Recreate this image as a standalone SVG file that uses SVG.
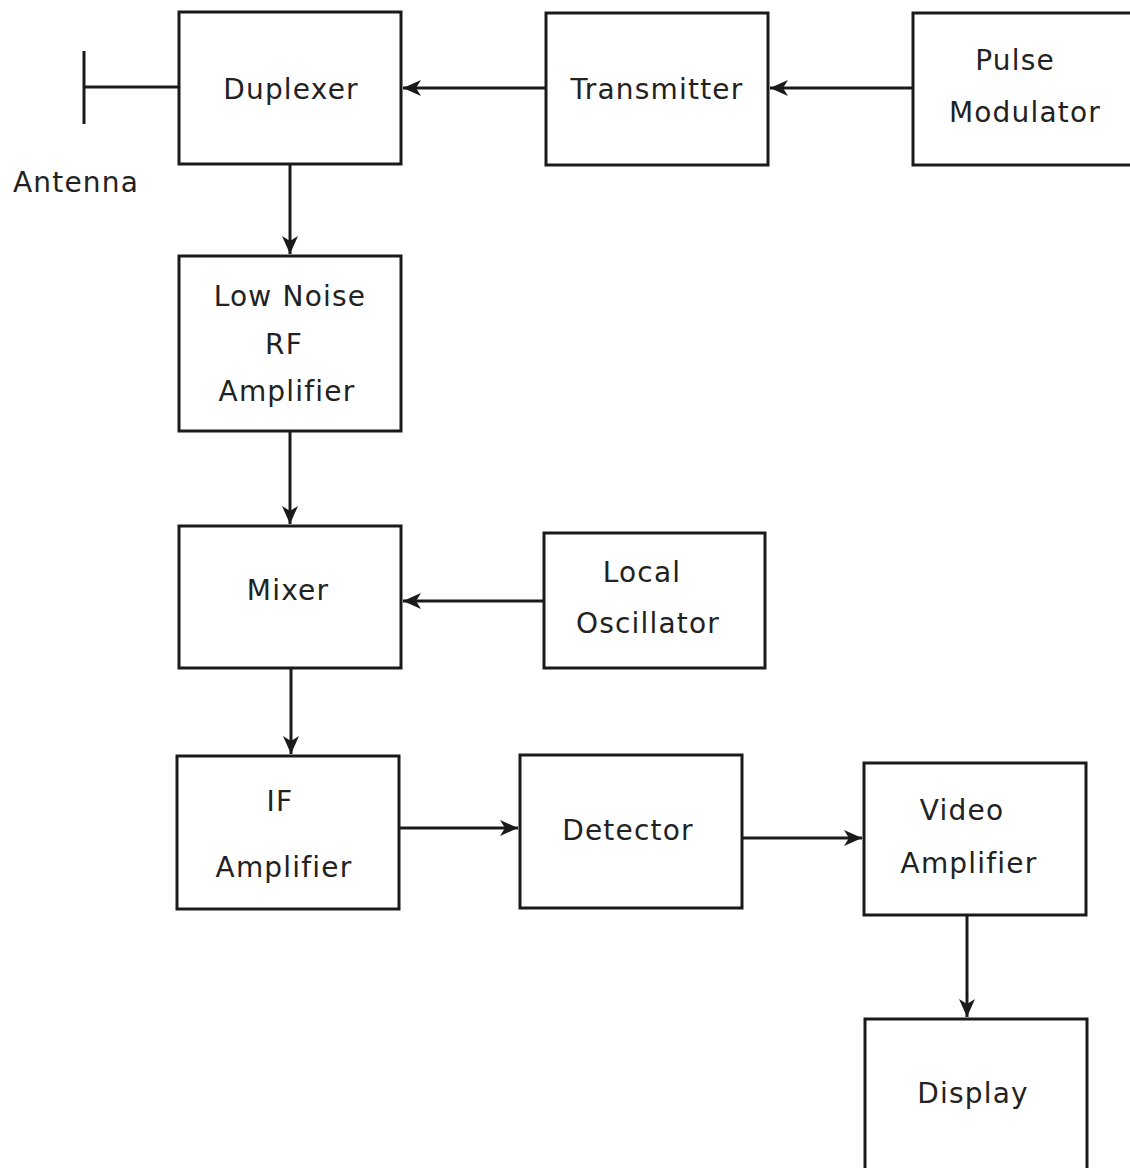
<svg xmlns="http://www.w3.org/2000/svg" width="1130" height="1168" viewBox="0 0 1130 1168">
<style>
.box{fill:#fff;stroke:#1a1a1a;stroke-width:3}
.t{font-family:"DejaVu Sans",Verdana,sans-serif;font-size:28px;letter-spacing:1.2px;fill:#222;text-anchor:middle}
.c{stroke:#1a1a1a;stroke-width:3;fill:none}
</style>
<defs>
<marker id="ah" markerUnits="userSpaceOnUse" markerWidth="22" markerHeight="22" viewBox="0 0 22 22" refX="19" refY="11" orient="auto">
<path d="M1,3 L19,11 L1,19 L6,11 Z" fill="#1a1a1a"/>
</marker>
</defs>
<rect width="1130" height="1168" fill="#fff"/>
<g id="connectors">
<path class="c" d="M84,51 V124 M84,87 H180"/>
<path class="c" d="M546,88 H403" marker-end="url(#ah)"/>
<path class="c" d="M913,88 H770" marker-end="url(#ah)"/>
<path class="c" d="M290,164 V254" marker-end="url(#ah)"/>
<path class="c" d="M290,431 V524" marker-end="url(#ah)"/>
<path class="c" d="M544,601 H403" marker-end="url(#ah)"/>
<path class="c" d="M291,668 V754" marker-end="url(#ah)"/>
<path class="c" d="M399,828 H518" marker-end="url(#ah)"/>
<path class="c" d="M742,838 H862" marker-end="url(#ah)"/>
<path class="c" d="M967,915 V1017" marker-end="url(#ah)"/>
</g>
<g id="antenna"><text class="t" x="76" y="192">Antenna</text></g>
<g id="duplexer"><rect class="box" x="179" y="12" width="222" height="152"/><text class="t" x="291" y="99">Duplexer</text></g>
<g id="transmitter"><rect class="box" x="546" y="13" width="222" height="152"/><text class="t" x="657" y="99">Transmitter</text></g>
<g id="pulse-modulator"><rect class="box" x="913" y="13" width="240" height="152"/><text class="t" x="1015" y="70">Pulse</text><text class="t" x="1025" y="122">Modulator</text></g>
<g id="lna"><rect class="box" x="179" y="256" width="222" height="175"/><text class="t" x="290" y="306">Low Noise</text><text class="t" x="284" y="354">RF</text><text class="t" x="287" y="401">Amplifier</text></g>
<g id="mixer"><rect class="box" x="179" y="526" width="222" height="142"/><text class="t" x="288" y="600">Mixer</text></g>
<g id="local-oscillator"><rect class="box" x="544" y="533" width="221" height="135"/><text class="t" x="642" y="582">Local</text><text class="t" x="648" y="633">Oscillator</text></g>
<g id="if-amplifier"><rect class="box" x="177" y="756" width="222" height="153"/><text class="t" x="280" y="811">IF</text><text class="t" x="284" y="877">Amplifier</text></g>
<g id="detector"><rect class="box" x="520" y="755" width="222" height="153"/><text class="t" x="628" y="840">Detector</text></g>
<g id="video-amplifier"><rect class="box" x="864" y="763" width="222" height="152"/><text class="t" x="962" y="820">Video</text><text class="t" x="969" y="873">Amplifier</text></g>
<g id="display"><rect class="box" x="865" y="1019" width="222" height="170"/><text class="t" x="973" y="1103">Display</text></g>
</svg>
